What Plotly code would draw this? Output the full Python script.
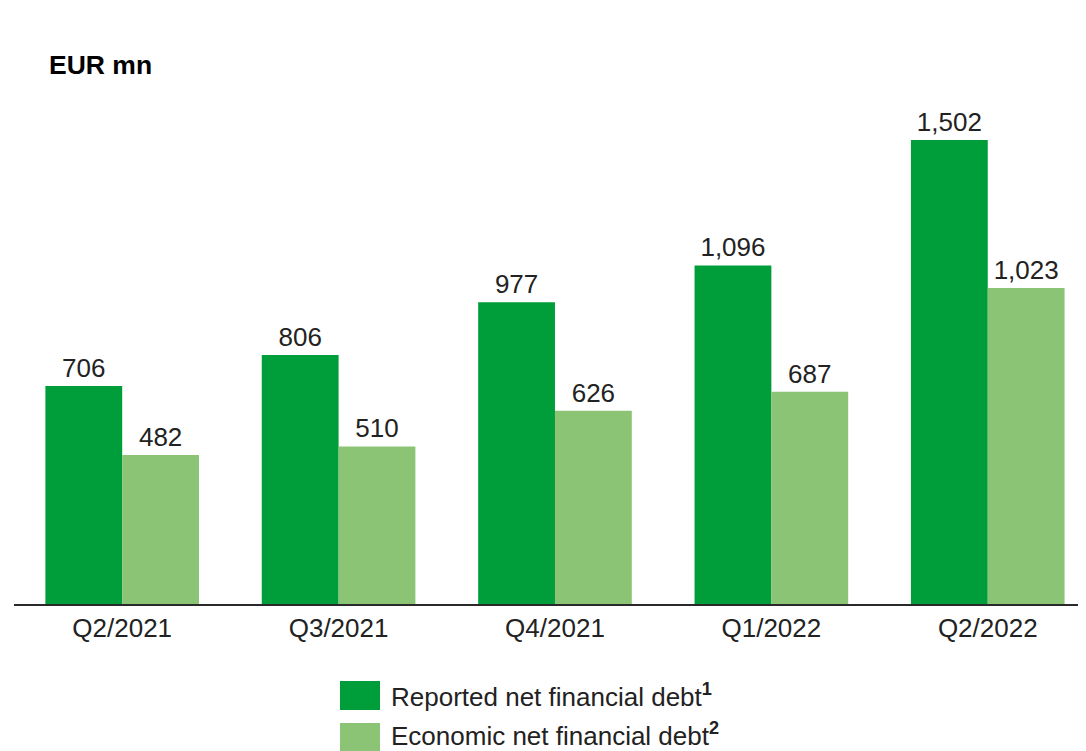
import plotly.graph_objects as go

categories = ["Q2/2021", "Q3/2021", "Q4/2021", "Q1/2022", "Q2/2022"]
reported = [706, 806, 977, 1096, 1502]
economic = [482, 510, 626, 687, 1023]
series_names = ["Reported net financial debt<sup><b>1</b></sup>",
                "Economic net financial debt<sup><b>2</b></sup>"]
colors = ["#009E3A", "#8BC475"]

FONT = "Liberation Sans, Arial, sans-serif"
OFF = 8  # page body margin
W, H = 1086 - OFF, 751 - OFF
ML, MR, MT, MB = 14 - OFF, 0, 100 - OFF, 147
pw = W - ML - MR
ph = H - MT - MB

def px_x(px):
    return (px - OFF - ML) / pw

def px_y(py):
    return (H - MB - (py - OFF)) / ph

fig = go.Figure()
for vals, c, n in zip([reported, economic], colors, series_names):
    fig.add_trace(go.Bar(
        x=categories, y=vals, name=n, marker=dict(color=c, line=dict(width=0)),
        text=[f"{v:,}" for v in vals], textposition="outside",
        textfont=dict(family=FONT, size=26, color="#222222"),
        cliponaxis=False, showlegend=False,
    ))

# custom legend
legend_tops = [681, 723]
legend_text_mid = [695, 734]
for top, mid, c, n in zip(legend_tops, legend_text_mid, colors, series_names):
    fig.add_shape(type="rect", xref="paper", yref="paper",
                  x0=px_x(340), x1=px_x(380), y0=px_y(top), y1=px_y(top + 29),
                  fillcolor=c, line=dict(width=0))
    fig.add_annotation(xref="paper", yref="paper", x=px_x(389), y=px_y(mid),
                       text=n, showarrow=False, xanchor="left", yanchor="middle",
                       font=dict(family=FONT, size=26, color="#222222"))

fig.add_annotation(xref="paper", yref="paper", x=px_x(47), y=px_y(65),
                   text="<b>EUR mn</b>", showarrow=False, xanchor="left", yanchor="middle",
                   font=dict(family=FONT, size=26.5, color="#000000"))

fig.update_layout(
    width=W, height=H,
    margin=dict(l=ML, r=MR, t=MT, b=MB, pad=0),
    paper_bgcolor="white", plot_bgcolor="white",
    barmode="group", bargap=0.29, bargroupgap=0,
    font=dict(family=FONT, size=26, color="#222222"),
    xaxis=dict(range=[-0.5, 4.454], showline=True, linecolor="#2a2a2a", linewidth=2,
               ticks="", tickfont=dict(family=FONT, size=26, color="#222222"),
               showgrid=False, fixedrange=True),
    yaxis=dict(range=[0, 1631.6], visible=False, showgrid=False, zeroline=False),
)

fig.write_html("out.html")
